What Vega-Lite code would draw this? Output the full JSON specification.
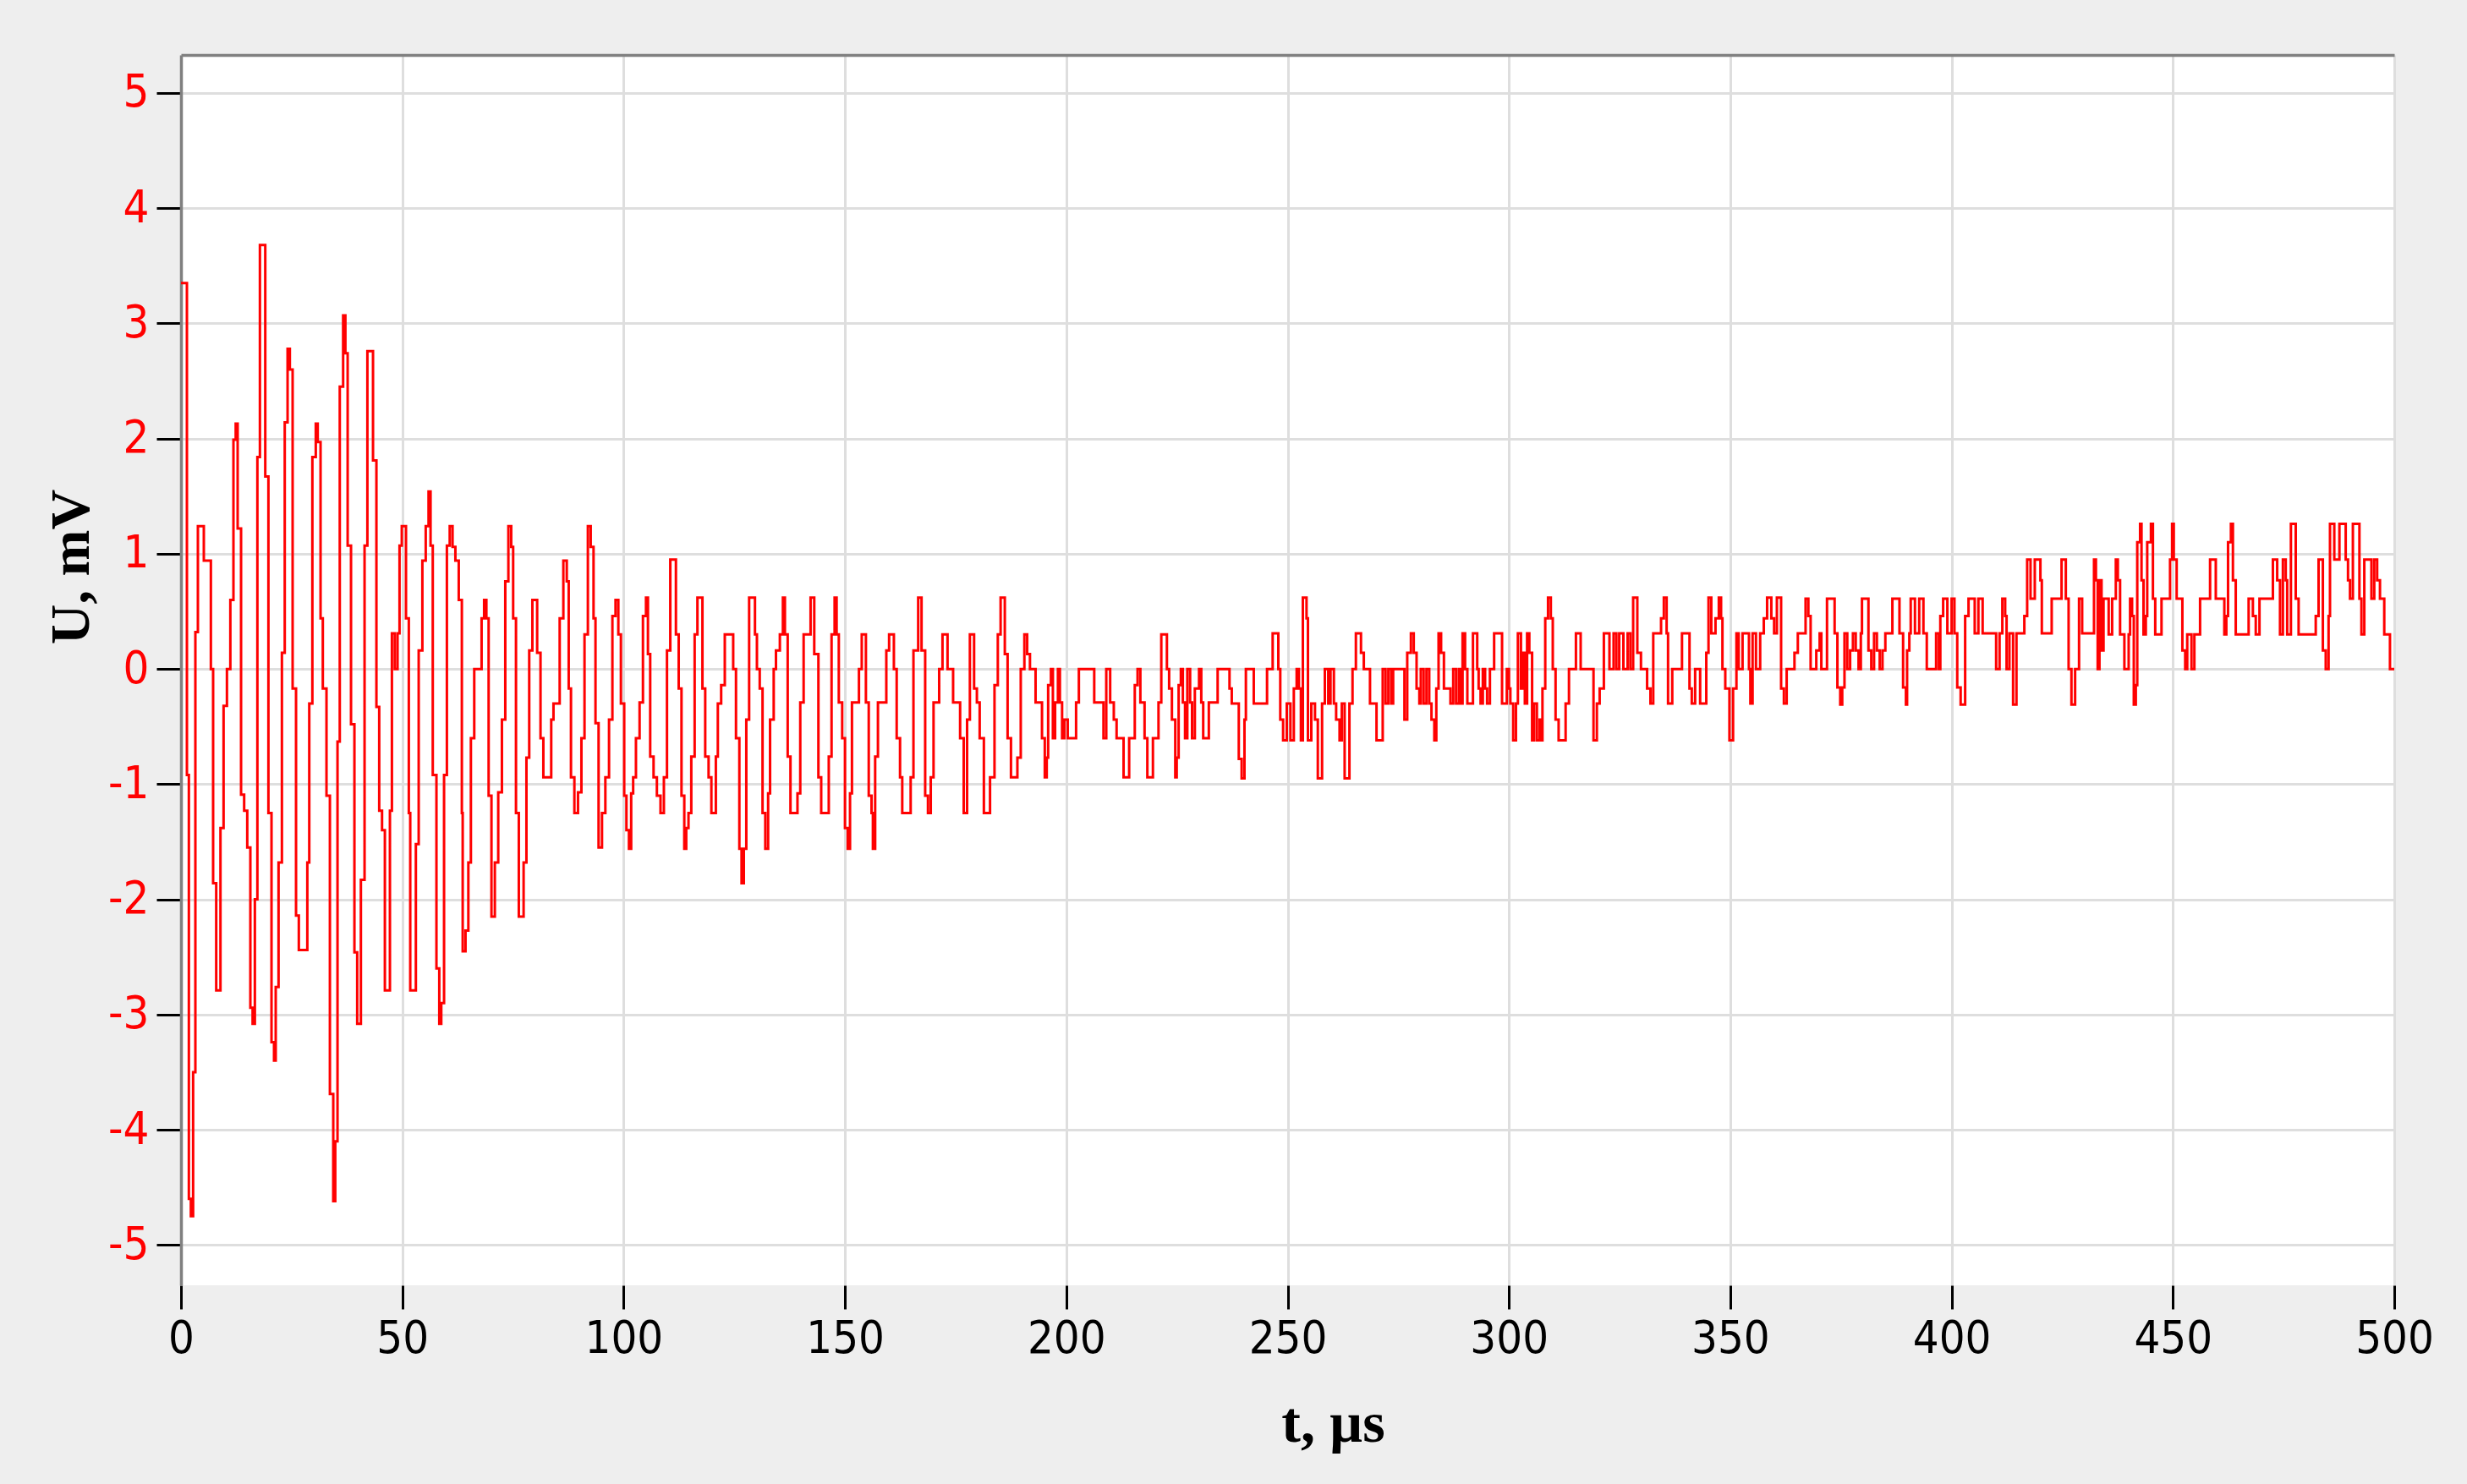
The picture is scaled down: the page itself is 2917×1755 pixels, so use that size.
{
  "$schema": "https://vega.github.io/schema/vega-lite/v6.json",
  "width": 2617,
  "height": 1455,
  "autosize": {"type": "none"},
  "padding": {"left": 214, "top": 65, "right": 86, "bottom": 235},
  "background": "#EEEEEE",
  "config": {"view": {"fill": "white", "stroke": null}},
  "data": {"values": [
    {"t":0,"v":3.35},{"t":1.34,"v":-0.92},{"t":1.78,"v":-4.6},{"t":2.23,"v":-4.75},{"t":2.74,"v":-3.5},{"t":3.25,"v":0.32},{"t":3.82,"v":1.24},{"t":5.16,"v":0.94},{"t":6.75,"v":0},{"t":7.26,"v":-1.86},{"t":7.96,"v":-2.79},{"t":8.92,"v":-1.38},{"t":9.62,"v":-0.32},{"t":10.38,"v":0},{"t":11.15,"v":0.6},{"t":11.85,"v":1.99},{"t":12.36,"v":2.13},{"t":12.8,"v":1.22},{"t":13.57,"v":-1.09},{"t":14.27,"v":-1.23},{"t":14.97,"v":-1.55},{"t":15.67,"v":-2.94},{"t":16.18,"v":-3.08},{"t":16.69,"v":-2},{"t":17.26,"v":1.84},{"t":17.83,"v":3.68},{"t":19.04,"v":1.67},{"t":19.75,"v":-1.25},{"t":20.45,"v":-3.24},{"t":21.02,"v":-3.4},{"t":21.4,"v":-2.76},{"t":22.04,"v":-1.68},{"t":22.8,"v":0.14},{"t":23.44,"v":2.14},{"t":24.08,"v":2.78},{"t":24.59,"v":2.6},{"t":25.22,"v":-0.17},{"t":25.99,"v":-2.14},{"t":26.62,"v":-2.44},{"t":28.54,"v":-1.68},{"t":28.98,"v":-0.3},{"t":29.68,"v":1.84},{"t":30.45,"v":2.13},{"t":30.89,"v":1.97},
    {"t":31.53,"v":0.44},{"t":32.04,"v":-0.17},{"t":32.87,"v":-1.1},{"t":33.64,"v":-3.69},{"t":34.4,"v":-4.62},{"t":34.85,"v":-4.1},{"t":35.36,"v":-0.63},{"t":35.87,"v":2.45},{"t":36.63,"v":3.07},{"t":37.14,"v":2.74},{"t":37.65,"v":1.07},{"t":38.41,"v":-0.48},{"t":39.18,"v":-2.46},{"t":39.81,"v":-3.08},{"t":40.64,"v":-1.83},{"t":41.47,"v":1.07},{"t":42.11,"v":2.76},{"t":43.38,"v":1.81},{"t":44.15,"v":-0.33},{"t":44.78,"v":-1.23},{"t":45.42,"v":-1.4},{"t":46.06,"v":-2.79},{"t":47.2,"v":-1.23},{"t":47.65,"v":0.31},{"t":48.29,"v":0},{"t":48.92,"v":0.31},{"t":49.37,"v":1.07},{"t":49.88,"v":1.24},{"t":50.83,"v":0.44},{"t":51.47,"v":-1.25},{"t":51.79,"v":-2.79},{"t":53.06,"v":-1.52},{"t":53.7,"v":0.16},{"t":54.53,"v":0.94},{"t":55.29,"v":1.24},{"t":55.93,"v":1.54},{"t":56.38,"v":1.07},{"t":56.88,"v":-0.92},{"t":57.71,"v":-2.6},{"t":58.35,"v":-3.08},{"t":58.8,"v":-2.9},{"t":59.43,"v":-0.92},{"t":60.07,"v":1.07},{"t":60.71,"v":1.24},
    {"t":61.35,"v":1.06},{"t":61.99,"v":0.94},{"t":62.75,"v":0.6},{"t":63.45,"v":-1.25},{"t":63.64,"v":-2.45},{"t":64.28,"v":-2.27},{"t":64.92,"v":-1.68},{"t":65.49,"v":-0.6},{"t":66.25,"v":0},{"t":67.91,"v":0.44},{"t":68.48,"v":0.6},{"t":68.99,"v":0.44},{"t":69.5,"v":-1.1},{"t":70.14,"v":-2.15},{"t":70.9,"v":-1.68},{"t":71.67,"v":-1.07},{"t":72.5,"v":-0.44},{"t":73.26,"v":0.76},{"t":73.96,"v":1.24},{"t":74.6,"v":1.06},{"t":75.04,"v":0.44},{"t":75.68,"v":-1.25},{"t":76.32,"v":-2.15},{"t":77.4,"v":-1.68},{"t":78.04,"v":-0.77},{"t":78.67,"v":0.16},{"t":79.38,"v":0.6},{"t":80.46,"v":0.14},{"t":81.22,"v":-0.6},{"t":81.86,"v":-0.94},{"t":83.64,"v":-0.44},{"t":84.15,"v":-0.3},{"t":85.55,"v":0.44},{"t":86.38,"v":0.94},{"t":87.15,"v":0.76},{"t":87.59,"v":-0.17},{"t":88.1,"v":-0.94},{"t":88.87,"v":-1.25},{"t":89.69,"v":-1.07},{"t":90.46,"v":-0.6},{"t":91.16,"v":0.3},{"t":91.92,"v":1.24},{"t":92.56,"v":1.06},{"t":93.2,"v":0.44},{"t":93.64,"v":-0.47},{"t":94.34,"v":-1.55},{"t":95.11,"v":-1.25},{"t":95.87,"v":-0.94},{"t":96.7,"v":-0.44},{"t":97.46,"v":0.46},{"t":98.17,"v":0.6},{"t":98.8,"v":0.3},{"t":99.38,"v":-0.3},
    {"t":100.13,"v":-1.1},{"t":100.63,"v":-1.4},{"t":101.2,"v":-1.56},{"t":101.7,"v":-1.08},{"t":102.15,"v":-0.94},{"t":102.78,"v":-0.6},{"t":103.6,"v":-0.29},{"t":104.36,"v":0.46},{"t":105.05,"v":0.62},{"t":105.49,"v":0.13},{"t":106,"v":-0.76},{"t":106.76,"v":-0.94},{"t":107.51,"v":-1.1},{"t":108.33,"v":-1.25},{"t":109.09,"v":-0.94},{"t":109.79,"v":0.16},{"t":110.54,"v":0.95},{"t":111.81,"v":0.3},{"t":112.44,"v":-0.17},{"t":113.07,"v":-1.1},{"t":113.7,"v":-1.56},{"t":114.14,"v":-1.38},{"t":114.65,"v":-1.25},{"t":115.28,"v":-0.76},{"t":116.04,"v":0.3},{"t":116.67,"v":0.62},{"t":117.8,"v":-0.17},{"t":118.43,"v":-0.76},{"t":119.19,"v":-0.94},{"t":119.82,"v":-1.25},{"t":120.83,"v":-0.76},{"t":121.28,"v":-0.3},{"t":122.03,"v":-0.14},{"t":122.85,"v":0.3},{"t":124.75,"v":0},{"t":125.38,"v":-0.6},{"t":126.14,"v":-1.56},{"t":126.64,"v":-1.86},{"t":127.15,"v":-1.56},{"t":127.71,"v":-0.44},{"t":128.35,"v":0.62},{"t":129.67,"v":0.3},{"t":130.11,"v":0},{"t":130.74,"v":-0.17},{"t":131.38,"v":-1.25},{"t":132,"v":-1.56},{"t":132.64,"v":-1.08},{"t":133.08,"v":-0.44},{"t":133.9,"v":0},{"t":134.41,"v":0.16},{"t":135.29,"v":0.3},{"t":135.98,"v":0.62},{"t":136.43,"v":0.3},{"t":137.06,"v":-0.76},{"t":137.69,"v":-1.25},{"t":139.27,"v":-1.08},{"t":139.9,"v":-0.29},{"t":140.66,"v":0.3},{"t":142.23,"v":0.62},{"t":143.06,"v":0.13},{"t":144,"v":-0.94},{"t":144.63,"v":-1.25},{"t":146.34,"v":-0.76},{"t":146.97,"v":0.3},{"t":147.66,"v":0.62},{"t":148.11,"v":0.3},{"t":148.61,"v":-0.29},{"t":149.37,"v":-0.6},{"t":150,"v":-1.38},{"t":150.63,"v":-1.56},{"t":151.14,"v":-1.08},{"t":151.58,"v":-0.29},{"t":153.16,"v":0},{"t":153.79,"v":0.3},{"t":154.73,"v":-0.29},{"t":155.37,"v":-1.1},{"t":156,"v":-1.25},{"t":156.31,"v":-1.56},{"t":156.82,"v":-0.76},{"t":157.45,"v":-0.29},{"t":159.34,"v":0.16},{"t":159.97,"v":0.3},{"t":161.05,"v":0},{"t":161.68,"v":-0.6},{"t":162.44,"v":-0.94},{"t":162.94,"v":-1.25},{"t":164.84,"v":-0.94},{"t":165.47,"v":0.16},
    {"t":166.54,"v":0.62},{"t":167.3,"v":0.16},{"t":168.12,"v":-1.1},{"t":168.75,"v":-1.25},{"t":169.38,"v":-0.94},{"t":170.01,"v":-0.29},{"t":171.28,"v":0},{"t":172.03,"v":0.3},{"t":173.17,"v":0},{"t":174.43,"v":-0.29},{"t":176.01,"v":-0.6},{"t":176.83,"v":-1.25},{"t":177.59,"v":-0.44},{"t":178.22,"v":0.3},{"t":179.17,"v":-0.17},{"t":179.8,"v":-0.29},{"t":180.43,"v":-0.6},{"t":181.38,"v":-1.25},{"t":182.77,"v":-0.94},{"t":183.78,"v":-0.14},{"t":184.53,"v":0.3},{"t":185.16,"v":0.62},{"t":186.11,"v":0.13},{"t":186.74,"v":-0.6},{"t":187.5,"v":-0.94},{"t":188.95,"v":-0.77},{"t":189.71,"v":0},{"t":190.53,"v":0.3},{"t":191.16,"v":0.13},{"t":191.79,"v":0},{"t":193.06,"v":-0.29},{"t":194.51,"v":-0.6},{"t":195.14,"v":-0.94},{"t":195.58,"v":-0.77},{"t":195.9,"v":-0.14},{"t":196.53,"v":0},{"t":196.97,"v":-0.6},{"t":197.47,"v":-0.29},{"t":198.11,"v":0},{"t":198.55,"v":-0.29},{"t":199.05,"v":-0.6},{"t":199.56,"v":-0.44},{"t":200.32,"v":-0.6},{"t":202.21,"v":-0.29},{"t":202.84,"v":0},{"t":206.31,"v":-0.29},{"t":208.4,"v":-0.6},{"t":209.03,"v":0},{"t":209.91,"v":-0.29},{"t":210.73,"v":-0.44},{"t":211.36,"v":-0.6},{"t":212.94,"v":-0.94},{"t":214.2,"v":-0.6},{"t":215.47,"v":-0.14},{"t":216.1,"v":0},{"t":216.73,"v":-0.29},{"t":217.68,"v":-0.6},{"t":218.31,"v":-0.94},{"t":219.57,"v":-0.6},{"t":220.83,"v":-0.29},{"t":221.46,"v":0.3},{"t":222.73,"v":0},{"t":223.23,"v":-0.17},{"t":223.86,"v":-0.44},{"t":224.62,"v":-0.94},{"t":224.94,"v":-0.77},{"t":225.38,"v":-0.14},{"t":225.88,"v":0},{"t":226.33,"v":-0.29},{"t":226.83,"v":-0.6},{"t":227.34,"v":0},{"t":227.97,"v":-0.29},{"t":228.41,"v":-0.6},{"t":229.04,"v":-0.17},{"t":229.99,"v":0},{"t":230.49,"v":-0.29},{"t":230.93,"v":-0.6},{"t":232.2,"v":-0.29},
    {"t":234.19,"v":0},{"t":236.87,"v":-0.17},{"t":237.38,"v":-0.3},{"t":238.97,"v":-0.78},{"t":239.61,"v":-0.95},{"t":240.25,"v":-0.44},{"t":240.57,"v":0},{"t":242.35,"v":-0.3},{"t":245.35,"v":0},{"t":246.62,"v":0.31},{"t":247.9,"v":0},{"t":248.34,"v":-0.44},{"t":248.98,"v":-0.62},{"t":249.81,"v":-0.3},{"t":250.64,"v":-0.62},{"t":251.4,"v":-0.17},{"t":252.04,"v":0},{"t":252.55,"v":-0.17},{"t":253,"v":-0.62},{"t":253.44,"v":0.62},{"t":254.27,"v":0.44},{"t":254.59,"v":-0.62},{"t":255.35,"v":-0.3},{"t":256.18,"v":-0.44},{"t":256.82,"v":-0.95},{"t":257.78,"v":-0.3},{"t":258.41,"v":0},{"t":259.18,"v":-0.3},{"t":259.69,"v":0},{"t":260.45,"v":-0.3},{"t":260.96,"v":-0.44},{"t":261.73,"v":-0.62},{"t":262.24,"v":-0.3},{"t":262.88,"v":-0.95},{"t":263.96,"v":-0.3},{"t":264.66,"v":0},{"t":265.42,"v":0.31},{"t":266.57,"v":0.14},{"t":267.21,"v":0},{"t":268.61,"v":-0.3},{"t":270.08,"v":-0.62},{"t":271.48,"v":0},{"t":272.12,"v":-0.3},{"t":272.75,"v":0},{"t":273.39,"v":-0.3},{"t":273.84,"v":0},{"t":276.39,"v":-0.44},{"t":277.02,"v":0.14},{"t":277.85,"v":0.31},{"t":278.49,"v":0.14},{"t":279.13,"v":-0.17},{"t":279.76,"v":-0.3},{"t":280.08,"v":0},{"t":280.72,"v":-0.3},{"t":281.36,"v":0},{"t":281.99,"v":-0.3},{"t":282.5,"v":-0.44},{"t":283.14,"v":-0.62},{"t":283.59,"v":-0.17},{"t":284.1,"v":0.31},{"t":284.67,"v":0.14},{"t":285.31,"v":-0.17},{"t":286.78,"v":-0.3},{"t":287.41,"v":0},{"t":288.05,"v":-0.3},{"t":288.69,"v":0},{"t":289.13,"v":-0.3},{"t":289.52,"v":0.31},{"t":290.09,"v":0},{"t":290.6,"v":-0.3},{"t":291.87,"v":0.31},{"t":292.83,"v":0},{"t":293.15,"v":-0.17},{"t":293.59,"v":-0.3},{"t":294.1,"v":0},{"t":294.61,"v":-0.17},{"t":295.06,"v":-0.3},{"t":295.7,"v":0},{"t":296.65,"v":0.31},{"t":298.44,"v":-0.3},{"t":299.52,"v":0},
    {"t":300,"v":-0.17},{"t":300.32,"v":-0.3},{"t":300.95,"v":-0.62},{"t":301.58,"v":-0.3},{"t":302.02,"v":0.31},{"t":302.71,"v":-0.17},{"t":303.15,"v":0.14},{"t":303.59,"v":-0.3},{"t":304.1,"v":0.31},{"t":304.6,"v":0.14},{"t":305.23,"v":-0.62},{"t":305.67,"v":-0.3},{"t":306.31,"v":-0.62},{"t":306.94,"v":-0.44},{"t":307.38,"v":-0.62},{"t":307.57,"v":-0.17},{"t":308.2,"v":0.44},{"t":308.83,"v":0.62},{"t":309.46,"v":0.44},{"t":309.9,"v":0},{"t":310.53,"v":-0.44},{"t":311.22,"v":-0.62},{"t":312.8,"v":-0.3},{"t":313.56,"v":0},{"t":315.13,"v":0.31},{"t":316.2,"v":0},{"t":319.1,"v":-0.62},{"t":319.86,"v":-0.3},{"t":320.49,"v":-0.17},{"t":321.44,"v":0.31},{"t":322.7,"v":0},{"t":323.64,"v":0.31},{"t":324.27,"v":0},{"t":324.91,"v":0.31},{"t":325.85,"v":0},{"t":326.8,"v":0.31},{"t":327.43,"v":0},{"t":328.06,"v":0.62},{"t":329,"v":0.14},{"t":329.82,"v":0},{"t":331.21,"v":-0.17},{"t":331.97,"v":-0.3},{"t":332.6,"v":0.31},{"t":334.36,"v":0.44},{"t":334.99,"v":0.62},{"t":335.62,"v":0.31},{"t":335.94,"v":-0.3},{"t":336.89,"v":0},{"t":339.09,"v":0.31},{"t":340.79,"v":-0.17},{"t":341.3,"v":-0.3},{"t":342.06,"v":0},{"t":343.19,"v":-0.3},{"t":344.58,"v":0.14},{"t":345.08,"v":0.62},{"t":345.71,"v":0.31},{"t":346.66,"v":0.44},{"t":347.41,"v":0.62},{"t":347.92,"v":0.44},{"t":348.23,"v":0},{"t":348.87,"v":-0.17},{"t":349.81,"v":-0.62},{"t":350.63,"v":-0.17},{"t":351.39,"v":0.31},{"t":351.89,"v":0},{"t":352.77,"v":0.31},{"t":354.22,"v":0},{"t":354.54,"v":-0.3},{"t":355.04,"v":0.31},{"t":355.8,"v":0},{"t":356.75,"v":0.31},{"t":357.57,"v":0.44},{"t":358.32,"v":0.62},{"t":359.27,"v":0.44},{"t":359.9,"v":0.31},{"t":360.53,"v":0.62},{"t":361.48,"v":-0.17},{"t":362.11,"v":-0.3},{"t":362.74,"v":0},{"t":364.5,"v":0.14},{"t":365.26,"v":0.31},
    {"t":367.01,"v":0.61},{"t":367.64,"v":0.46},{"t":368.15,"v":0},{"t":369.43,"v":0.16},{"t":370.19,"v":0.31},{"t":370.57,"v":0},{"t":371.85,"v":0.61},{"t":373.57,"v":0.31},{"t":374.2,"v":-0.16},{"t":374.84,"v":-0.31},{"t":375.29,"v":-0.16},{"t":375.8,"v":0.31},{"t":376.43,"v":0},{"t":377.07,"v":0.16},{"t":377.71,"v":0.31},{"t":378.34,"v":0.16},{"t":378.98,"v":0},{"t":379.49,"v":0.31},{"t":379.75,"v":0.61},{"t":381.21,"v":0.16},{"t":381.85,"v":0},{"t":382.48,"v":0.31},{"t":383.12,"v":0.16},{"t":383.76,"v":0},{"t":384.39,"v":0.16},{"t":385.03,"v":0.31},{"t":386.62,"v":0.61},{"t":388.22,"v":0.31},{"t":389.04,"v":-0.16},{"t":389.68,"v":-0.31},{"t":389.94,"v":0.16},{"t":390.45,"v":0.31},{"t":390.76,"v":0.61},{"t":391.72,"v":0.31},{"t":392.68,"v":0.61},{"t":393.63,"v":0.31},{"t":394.39,"v":0},{"t":396.5,"v":0.31},{"t":397.13,"v":0},{"t":397.45,"v":0.46},{"t":398.09,"v":0.61},{"t":399.04,"v":0.31},{"t":400,"v":0.61},{"t":400.64,"v":0.31},{"t":401.27,"v":-0.16},{"t":402.04,"v":-0.31},{"t":403.06,"v":0.46},{"t":403.82,"v":0.61},{"t":405.22,"v":0.31},{"t":406.05,"v":0.61},{"t":407.01,"v":0.31},{"t":410.06,"v":0},{"t":410.83,"v":0.31},{"t":411.46,"v":0.61},{"t":412.1,"v":0.46},{"t":412.42,"v":0},{"t":413.06,"v":0.31},{"t":413.89,"v":-0.31},{"t":414.65,"v":0.31},{"t":416.43,"v":0.46},{"t":417.07,"v":0.95},{"t":417.83,"v":0.61},{"t":418.79,"v":0.95},{"t":420.06,"v":0.77},{"t":420.38,"v":0.31},{"t":422.61,"v":0.61},{"t":424.84,"v":0.95},{"t":425.8,"v":0.61},{"t":426.43,"v":0},{"t":427.07,"v":-0.31},{"t":427.9,"v":0},{"t":428.79,"v":0.61},{"t":429.49,"v":0.31},{"t":432.17,"v":0.95},{"t":432.6,"v":0.77},
    {"t":433.0,"v":0},{"t":433.4,"v":0.77},{"t":433.87,"v":0.16},{"t":434.32,"v":0.61},{"t":435.48,"v":0.3},{"t":436.26,"v":0.61},{"t":437.1,"v":0.95},{"t":437.55,"v":0.77},{"t":438.06,"v":0.3},{"t":439.03,"v":0},{"t":440,"v":0.3},{"t":440.32,"v":0.61},{"t":440.77,"v":0.46},{"t":441.16,"v":-0.31},{"t":441.61,"v":-0.14},{"t":441.94,"v":1.1},{"t":442.58,"v":1.26},{"t":442.9,"v":0.77},{"t":443.35,"v":0.3},{"t":443.87,"v":0.46},{"t":444.19,"v":1.1},{"t":445.03,"v":1.26},{"t":445.48,"v":0.61},{"t":446,"v":0.3},{"t":447.42,"v":0.61},{"t":449.35,"v":0.95},{"t":449.81,"v":1.26},{"t":450.19,"v":0.95},{"t":450.84,"v":0.61},{"t":452.13,"v":0.16},{"t":452.77,"v":0},{"t":453.23,"v":0.3},{"t":454.19,"v":0},{"t":454.84,"v":0.3},{"t":456.13,"v":0.61},{"t":458.39,"v":0.95},{"t":459.68,"v":0.61},{"t":461.61,"v":0.3},{"t":462.06,"v":0.46},{"t":462.45,"v":1.1},{"t":463.1,"v":1.26},{"t":463.55,"v":0.77},{"t":464.19,"v":0.3},{"t":467.1,"v":0.61},{"t":468.06,"v":0.46},{"t":468.71,"v":0.3},{"t":469.55,"v":0.61},{"t":472.58,"v":0.95},{"t":473.55,"v":0.77},{"t":474.19,"v":0.3},{"t":474.84,"v":0.95},{"t":475.48,"v":0.77},{"t":475.81,"v":0.3},{"t":476.65,"v":1.26},{"t":477.74,"v":0.61},{"t":478.39,"v":0.3},{"t":482.26,"v":0.46},{"t":482.9,"v":0.95},{"t":483.87,"v":0.16},{"t":484.52,"v":0},{"t":485.16,"v":0.46},{"t":485.48,"v":1.26},{"t":486.45,"v":0.95},{"t":487.61,"v":1.26},{"t":489.03,"v":0.95},{"t":489.55,"v":0.77},{"t":490,"v":0.61},{"t":490.65,"v":1.26},{"t":492.13,"v":0.61},{"t":492.58,"v":0.3},{"t":493.23,"v":0.95},{"t":494.84,"v":0.61},{"t":495.48,"v":0.95},{"t":496.13,"v":0.77},{"t":496.77,"v":0.61},{"t":497.74,"v":0.3},{"t":499.03,"v":0},{"t":500,"v":0}
  ]},
  "layer": [
    {
      "mark": {"type": "line", "interpolate": "step-after", "color": "#FF0000", "strokeWidth": 3, "clip": true},
      "encoding": {
        "x": {
          "field": "t", "type": "quantitative",
          "scale": {"domain": [0, 500], "nice": false, "zero": false},
          "axis": {
            "values": [0, 50, 100, 150, 200, 250, 300, 350, 400, 450, 500],
            "grid": true, "gridColor": "#DEDEDE", "gridWidth": 3,
            "domain": false,
            "ticks": true, "tickColor": "#000000", "tickSize": 28, "tickWidth": 3,
            "labelFont": "Liberation Sans Narrow, DejaVu Sans Condensed, Liberation Sans, sans-serif",
            "labelFontSize": 54, "labelColor": "#000000", "labelPadding": 8,
            "labelFlush": false, "labelOverlap": false,
            "title": "t, µs",
            "titleFont": "Liberation Serif", "titleFontWeight": "bold", "titleFontSize": 68, "titleColor": "#000000",
            "titleX": 1362, "titleY": 184, "titleBaseline": "alphabetic", "titleAlign": "center"
          }
        },
        "y": {
          "field": "v", "type": "quantitative",
          "scale": {"domain": [-5.35, 5.33], "nice": false, "zero": false},
          "axis": {
            "values": [-5, -4, -3, -2, -1, 0, 1, 2, 3, 4, 5],
            "grid": true, "gridColor": "#DEDEDE", "gridWidth": 3,
            "domain": true, "domainColor": "#808080", "domainWidth": 3.5,
            "ticks": true, "tickColor": "#000000", "tickSize": 29, "tickWidth": 3,
            "labelFont": "Liberation Sans Narrow, DejaVu Sans Condensed, Liberation Sans, sans-serif",
            "labelFontSize": 54, "labelColor": "#FF0000", "labelPadding": 9,
            "labelExpr": "replace(datum.label, '−', '-')",
            "labelOverlap": false,
            "title": "U, mV",
            "titleFont": "Liberation Serif", "titleFontWeight": "bold", "titleFontSize": 66, "titleColor": "#000000",
            "titleAngle": -90, "titleX": -110, "titleY": 605, "titleBaseline": "alphabetic", "titleAlign": "center"
          }
        }
      }
    },
    {
      "mark": {"type": "rule", "strokeOpacity": 0},
      "encoding": {
        "x": {
          "field": "t", "type": "quantitative",
          "axis": {"orient": "top", "domain": true, "domainColor": "#808080", "domainWidth": 3.5, "ticks": false, "labels": false, "grid": false, "title": null}
        }
      }
    }
  ],
  "resolve": {"axis": {"x": "independent"}}
}
